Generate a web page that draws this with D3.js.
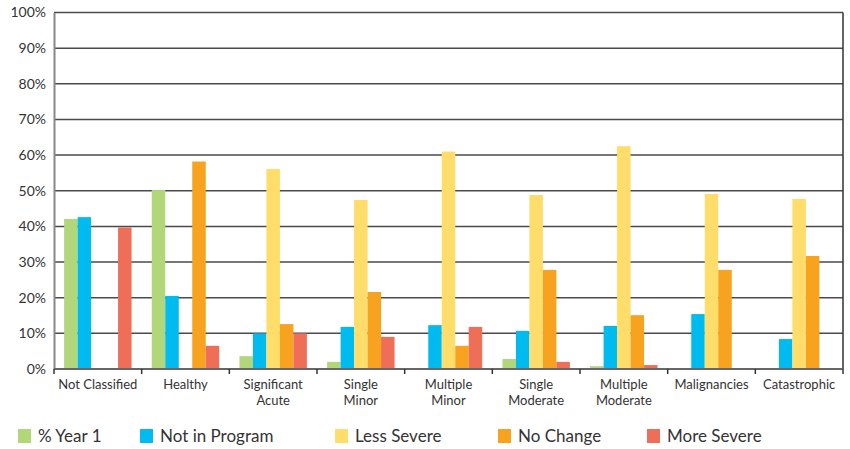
<html>
<head>
<script src="https://cdn.jsdelivr.net/npm/d3@7"></script>
<style>
  body { margin: 0; background: #fff; }
  text { font-family: Lato, "Noto Sans", "DejaVu Sans", sans-serif; fill: #333; }
</style>
</head>
<body>
<svg width="850" height="449"></svg>
<script>
// categories (label lines) and series
const categories = [
  ["Not Classified"], ["Healthy"], ["Significant", "Acute"], ["Single", "Minor"],
  ["Multiple", "Minor"], ["Single", "Moderate"], ["Multiple", "Moderate"],
  ["Malignancies"], ["Catastrophic"]
];
const seriesNames = ["% Year 1", "Not in Program", "Less Severe", "No Change", "More Severe"];
const year1        = [42.1, 50.2, 3.6, 2.0, 0,    2.8, 0.8, 0,    0];
const notInProgram = [42.6, 20.5, 10.0, 11.8, 12.3, 10.7, 12.1, 15.4, 8.4];
const lessSevere   = [0,    0,    56.1, 47.4, 61.0, 48.8, 62.5, 49.1, 47.7];
const noChange     = [0,    58.2, 12.6, 21.6, 6.5, 27.8, 15.1, 27.8, 31.7];
const moreSevere   = [39.7, 6.5,  10.0, 9.0,  11.8, 2.0,  1.1,  0,    0];
const yTicks = [0, 10, 20, 30, 40, 50, 60, 70, 80, 90, 100];
const colors = ["#b2d67a", "#00bbef", "#ffdd6b", "#f7a31f", "#ee6e58"];

const series = [year1, notInProgram, lessSevere, noChange, moreSevere];
const svg = d3.select("svg");
const mLeft = 54, mRight = 843, mTop = 12.5, mBottom = 369;

const x0 = d3.scaleBand().domain(d3.range(categories.length)).range([mLeft, mRight]);
const x1 = d3.scaleBand().domain(d3.range(seriesNames.length)).range([0, x0.bandwidth()])
  .paddingInner(0).paddingOuter(0.75);
const y = d3.scaleLinear().domain([0, 100]).range([mBottom, mTop]);

// gridlines
svg.append("g").selectAll("line").data(yTicks.filter(d => d > 0)).join("line")
  .attr("x1", mLeft).attr("x2", mRight)
  .attr("y1", d => y(d)).attr("y2", d => y(d))
  .attr("stroke", "#4a4a4a").attr("stroke-width", 1.5);

// right border
svg.append("line").attr("x1", mRight).attr("x2", mRight).attr("y1", y(100)).attr("y2", y(0))
  .attr("stroke", "#333").attr("stroke-width", 1.5);

// bars
const g = svg.append("g");
categories.forEach((c, i) => {
  g.append("g").attr("transform", `translate(${x0(i)},0)`)
    .selectAll("rect").data(series.map(s => s[i])).join("rect")
    .attr("x", (d, j) => x1(j))
    .attr("width", x1.bandwidth())
    .attr("y", d => y(d))
    .attr("height", d => y(0) - y(d))
    .attr("fill", (d, j) => colors[j]);
});

// y axis
const yAxis = svg.append("g").attr("transform", `translate(${mLeft},0)`)
  .call(d3.axisLeft(y).tickValues(yTicks).tickFormat(d => d + "%").tickSize(0).tickPadding(8));
yAxis.select(".domain").attr("stroke", "#888").attr("stroke-width", 2);
yAxis.selectAll("text").style("font-size", "14px").style("font-family", "Lato, sans-serif").attr("fill", "#333");

// x axis
svg.append("line").attr("x1", mLeft).attr("x2", mRight).attr("y1", y(0)).attr("y2", y(0))
  .attr("stroke", "#666").attr("stroke-width", 2);
svg.append("g").selectAll("line").data(d3.range(categories.length + 1)).join("line")
  .attr("x1", d => mLeft + d * x0.step()).attr("x2", d => mLeft + d * x0.step())
  .attr("y1", y(0)).attr("y2", y(0) + 5)
  .attr("stroke", "#333").attr("stroke-width", 1.5);

// category labels, one text per line
const labels = svg.append("g");
categories.forEach((c, i) => {
  c.forEach((line, k) => {
    labels.append("text").attr("text-anchor", "middle")
      .attr("x", x0(i) + x0.bandwidth() / 2).attr("y", 389 + k * 16)
      .style("font-size", "13px").text(line);
  });
});

// legend
const legendX = [18, 140, 335, 498, 647];
const legend = svg.append("g");
seriesNames.forEach((n, i) => {
  legend.append("rect").attr("x", legendX[i]).attr("y", 429).attr("width", 13).attr("height", 14)
    .attr("fill", colors[i]);
  legend.append("text").attr("x", legendX[i] + 20).attr("y", 442).style("font-size", "17px").text(n);
});
</script>
</body>
</html>
